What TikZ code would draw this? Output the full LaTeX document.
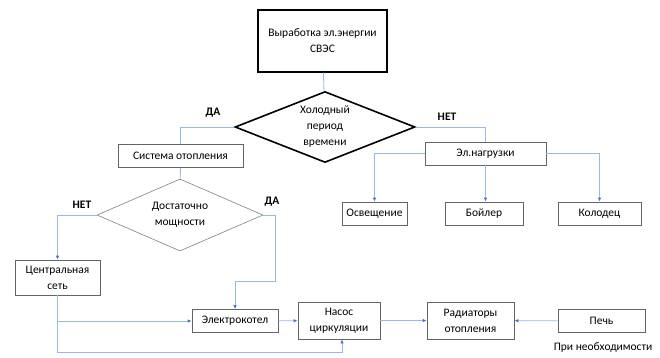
\documentclass[tikz,border=0pt]{standalone}
\usepackage{fontspec}
\setmainfont{Carlito}
\usetikzlibrary{shapes.geometric,arrows.meta}
\definecolor{linkblue}{RGB}{150,186,230}
\definecolor{tipblue}{RGB}{68,114,196}
\definecolor{boxgray}{RGB}{100,100,100}
\begin{document}
\begin{tikzpicture}[x=1pt, y=-1pt,
        every node/.style={font=\fontsize{11.5}{16}\selectfont},
        box/.style={rectangle, draw=boxgray, line width=0.8pt, minimum height=23pt, align=center, inner sep=2pt},
        bigbox/.style={rectangle, draw=black, line width=1.4pt, align=center},
        cond/.style={diamond, draw=black, line width=1.6pt, align=center, inner sep=-6pt},
        smallcond/.style={diamond, draw=gray, line width=0.6pt, align=center, inner sep=-6pt},
        answer/.style={font=\fontsize{11.5}{16}\selectfont\bfseries},
        link/.style={draw=linkblue, line width=0.8pt},
        arr/.style={link, -{Latex[length=4pt, width=3.5pt, color=tipblue]}}
    ]
        \useasboundingbox (0,0) rectangle (660,357);

        \node[bigbox, minimum width=129pt, minimum height=62pt] (src) at (322.5,41) {Выработка эл.энергии\\СВЭС};
        \node[cond, minimum width=180pt, minimum height=71pt] (cold) at (325,127) {Холодный\\период\\времени};
        \node[box, minimum width=125pt] (heat) at (180.5,156) {Система отопления};
        \node[box, minimum width=121pt] (load) at (485.5,153.5) {Эл.нагрузки};

        \node[box, minimum width=65pt] (osv) at (374.5,213.5) {Освещение};
        \node[box, minimum width=78pt] (boil) at (484,213.5) {Бойлер};
        \node[box, minimum width=83pt] (kol) at (599.5,213.5) {Колодец};

        \node[smallcond, minimum width=166pt, minimum height=72pt] (enough) at (180,215) {Достаточно\\мощности};
        \node[box, minimum width=85pt, minimum height=35pt] (cent) at (57.5,277.5) {Центральная\\сеть};
        \node[box, minimum width=86pt] (kotel) at (235,321) {Электрокотел};
        \node[box, minimum width=82pt, minimum height=37pt] (pump) at (339,320.5) {Насос\\циркуляции};
        \node[box, minimum width=87pt, minimum height=37pt] (rad) at (470.5,320.5) {Радиаторы\\отопления};
        \node[box, minimum width=87pt] (pech) at (601.5,321) {Печь};
        \node (note) at (603,348) {При необходимости};

        \node[answer] (yes1) at (213,113) {ДА};
        \node[answer] (no1) at (447,117) {НЕТ};
        \node[answer] (no2) at (82,205) {НЕТ};
        \node[answer] (yes2) at (272,202) {ДА};

        \coordinate (bend) at (275.5,281);
        \coordinate (ret) at (342,352);

        \draw[link] (src) -- (cold);
        \draw[link] (cold.west) -| (heat.north);
        \draw[link] (cold.east) -| (load.north);
        \draw[link] (heat) -- (enough);

        \draw[arr] (load.west) -| (osv.north);
        \draw[arr] (load.south) -- (load.south |- boil.north);
        \draw[arr] (load.east) -| (kol.north);

        \draw[arr] (enough.west) -| (cent.north);
        \draw[arr] (enough.east) -| (bend) -| (kotel.north);
        \draw[arr] (cent.south) |- (kotel.west);
        \draw[arr] (cent.south) |- (ret) -- (ret |- pump.south);
        \draw[arr] (kotel) -- (pump);
        \draw[arr] (pump) -- (rad);
        \draw[arr] (pech) -- (rad);
    \end{tikzpicture}
\end{document}
